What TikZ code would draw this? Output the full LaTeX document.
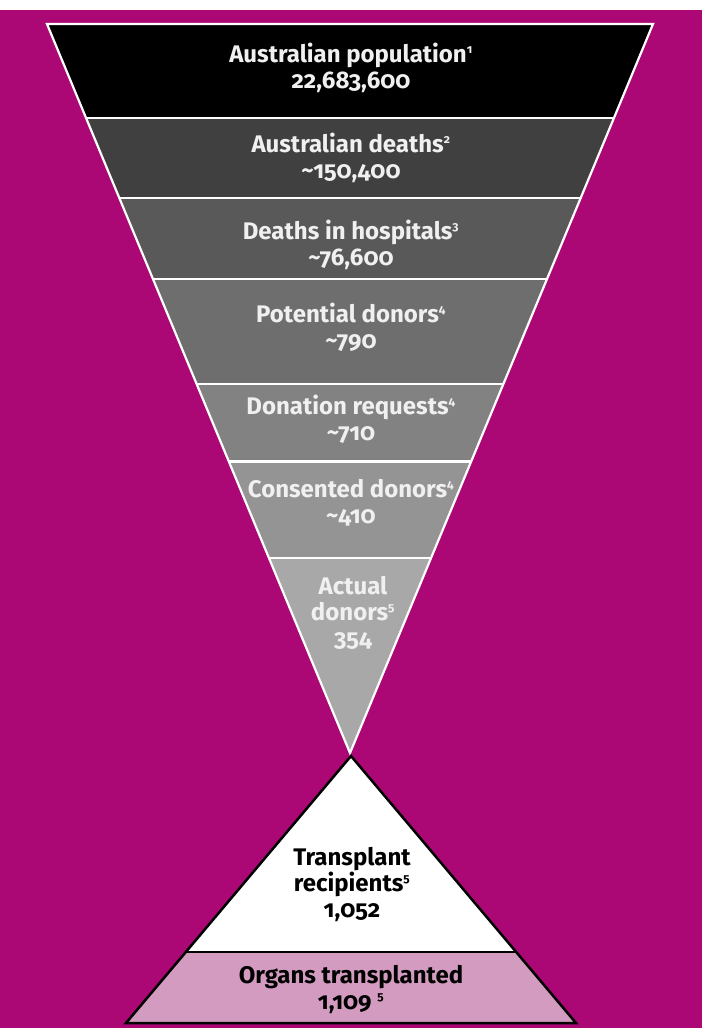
\documentclass[tikz,border=0pt]{standalone}
\usepackage{fontspec}
\setmainfont{Fira Sans}[Numbers=OldStyle]
\usepackage{tikz}
\usetikzlibrary{calc}

\definecolor{bg}{RGB}{171,8,117}
\definecolor{organ}{RGB}{212,155,192}
\newcommand{\fn}[1]{\textsuperscript{\fontsize{12}{12}\selectfont #1}}

\tikzset{
	sep/.style={white, line width=2.5pt},
	lbl/.style={font=\bfseries\fontsize{24}{26}\selectfont, text=gray!12, align=center, anchor=north, inner sep=0pt},
	dark/.style={lbl, text=black},
}

\begin{document}
\begin{tikzpicture}[x=1pt, y=-1pt]
	\useasboundingbox (0,0) rectangle (702,1028);
	\fill[white] (0,0) rectangle (702,10);
	\fill[bg] (0,10) rectangle (702,1028);
	
	\coordinate (l) at (47,24);
	\coordinate (r) at (653,24);
	\coordinate (a) at (350,753);
	
	\foreach \p/\q/\c in {0/0.1289/0, 0.1289/0.2387/25, 0.2387/0.3498/35, 0.3498/0.4938/43, 0.4938/0.6/51, 0.6/0.7325/58, 0.7325/1/66}
		\fill[white!\c!black] ($(l)!\p!(a)$) -- ($(r)!\p!(a)$) -- ($(r)!\q!(a)$) -- ($(l)!\q!(a)$) -- cycle;
	\foreach \q in {0.1289, 0.2387, 0.3498, 0.4938, 0.6, 0.7325}
		\draw[sep] ($(l)!\q!(a)$) -- ($(r)!\q!(a)$);
	\draw[white, line width=2.2pt, line join=miter] (l) -- (r) -- (a) -- cycle;
	
	\node[lbl] (1) at (351,43) {Australian population\fn{1}\\22,683,600};
	\node[lbl] (2) at (351,133) {Australian deaths\fn{2}\\\textasciitilde150,400};
	\node[lbl] (3) at (351,220) {Deaths in hospitals\fn{3}\\\textasciitilde76,600};
	\node[lbl] (4) at (351,303) {Potential donors\fn{4}\\\textasciitilde790};
	\node[lbl] (5) at (351,395) {Donation requests\fn{4}\\\textasciitilde710};
	\node[lbl] (6) at (351,479) {Consented donors\fn{4}\\\textasciitilde410};
	\node[lbl] (7) at (353,576) {Actual\\donors\fn{5}\\354};
	
	\coordinate (t) at (351,756);
	\coordinate (bl) at (126,1023);
	\coordinate (br) at (576,1023);
	\fill[white] (t) -- (bl) -- (br) -- cycle;
	\fill[organ] ($(t)!0.734!(bl)$) -- (bl) -- (br) -- ($(t)!0.734!(br)$) -- cycle;
	\draw[line width=2.8pt] ($(t)!0.734!(bl)$) -- ($(t)!0.734!(br)$);
	\draw[line width=2.5pt, line join=miter] (t) -- (bl) -- (br) -- cycle;
	
	\node[dark] (8) at (352,847) {Transplant\\recipients\fn{5}\\1,052};
	\node[dark] (9) at (351,965) {Organs transplanted\\1,109 \fn{5}};
\end{tikzpicture}
\end{document}
